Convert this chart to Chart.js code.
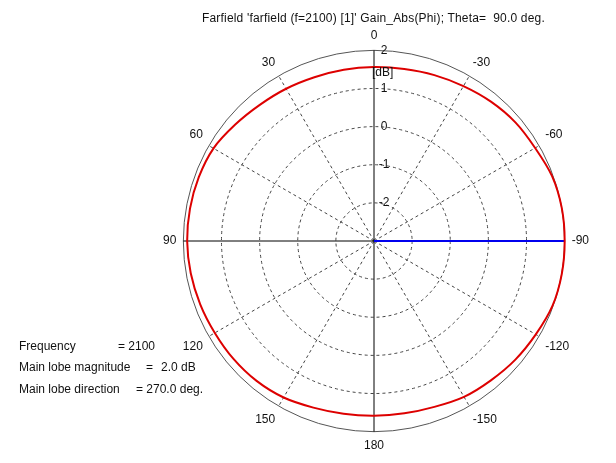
<!DOCTYPE html>
<html>
<head>
<meta charset="utf-8">
<script src="https://cdn.jsdelivr.net/npm/chart.js@4.4.1/dist/chart.umd.min.js"></script>
<style>
    body { margin: 0; background: #fff; }
    #wrap { position: relative; width: 616px; height: 463px; font-family: 'Liberation Sans', Arial, sans-serif; font-size: 12px; color: #111; }
    #wrap canvas { position: absolute; left: 0; top: 0; }
    .txt { position: absolute; white-space: pre; line-height: 14px; }
</style>
</head>
<body>
<div id="wrap">
    <canvas id="farfieldChart" width="616" height="463"></canvas>
    <div class="txt" style="left:202px; top:11px; letter-spacing:0.18px;">Farfield 'farfield (f=2100) [1]' Gain_Abs(Phi); Theta=  90.0 deg.</div>
    <div class="txt" style="left:372px; top:65px;">[dB]</div>
    <div class="txt" style="left:19px; top:339px;">Frequency</div>
    <div class="txt" style="left:118px; top:339px;">= 2100</div>
    <div class="txt" style="left:19px; top:360px;">Main lobe magnitude</div>
    <div class="txt" style="left:146px; top:360px;">=</div>
    <div class="txt" style="left:161px; top:360px;">2.0 dB</div>
    <div class="txt" style="left:19px; top:382px;">Main lobe direction</div>
    <div class="txt" style="left:136px; top:382px;">= 270.0 deg.</div>
</div>
<script>
// Phi angles in the order the radar axis walks them (clockwise from the top)
const phiDeg = [0, -10, -20, -30, -40, -50, -60, -70, -80, -90, -100, -110, -120, -130, -140, -150, -160, -170,
    180, 170, 160, 150, 140, 130, 120, 110, 100, 90, 80, 70, 60, 50, 40, 30, 20, 10];

// Gain_Abs in dB
const gainDb = [1.56, 1.58, 1.63, 1.69, 1.77, 1.84, 1.88, 1.97, 2.00, 2.00, 2.00, 1.98, 1.90, 1.84, 1.77, 1.72, 1.63, 1.59,
    1.58, 1.60, 1.65, 1.74, 1.79, 1.81, 1.82, 1.85, 1.88, 1.90, 1.90, 1.89, 1.86, 1.75, 1.66, 1.61, 1.57, 1.56];

// Main lobe marker: centre to 2.0 dB at phi = -90 (270 deg)
const mainLobe = [null, null, null, null, null, null, null, null, -3, 2.0, null, null, null, null, null, null, null, null,
    null, null, null, null, null, null, null, null, null, null, null, null, null, null, null, null, null, null];

const rMin = -3;
const rMax = 2;

const fontFamily = "'Liberation Sans', Arial, sans-serif";

function isMajor(i) {
    return phiDeg[i] % 30 === 0;
}
function isAxis(i) {
    return phiDeg[i] % 90 === 0;
}

const ctx = document.getElementById('farfieldChart');

const farfieldChart = new Chart(ctx, {
    type: 'radar',
    data: {
        labels: phiDeg,
        datasets: [
            {
                label: 'Gain_Abs',
                data: gainDb,
                borderColor: '#dd0000',
                borderWidth: 2,
                backgroundColor: 'transparent',
                fill: false,
                pointRadius: 0,
                tension: 0.3
            },
            {
                label: 'Main lobe',
                data: mainLobe,
                borderColor: '#0000ee',
                borderWidth: 2,
                backgroundColor: 'transparent',
                fill: false,
                pointRadius: 0,
                spanGaps: false,
                tension: 0
            }
        ]
    },
    options: {
        responsive: false,
        animation: false,
        layout: {
            padding: { left: 161, right: 25, top: 26, bottom: 7 }
        },
        plugins: {
            legend: { display: false },
            title: { display: false },
            tooltip: { enabled: false }
        },
        scales: {
            r: {
                min: rMin,
                max: rMax,
                beginAtZero: false,
                ticks: {
                    stepSize: 1,
                    showLabelBackdrop: false,
                    backdropPadding: 0,
                    color: '#111',
                    font: { size: 12, family: fontFamily },
                    callback: function(value) {
                        if (value === rMin) return '';
                        return '      ' + value;
                    }
                },
                grid: {
                    circular: true,
                    color: function(c) {
                        return c.tick && c.tick.value === rMax ? '#555' : '#444';
                    },
                    lineWidth: 1
                },
                border: {
                    dash: function(c) {
                        return c.tick && c.tick.value === rMax ? [] : [3, 3];
                    }
                },
                angleLines: {
                    display: true,
                    color: function(c) {
                        return isAxis(c.index) ? '#000' : '#444';
                    },
                    lineWidth: function(c) {
                        return isMajor(c.index) ? 1 : 0;
                    },
                    borderDash: function(c) {
                        return isAxis(c.index) ? [] : [3, 3];
                    }
                },
                pointLabels: {
                    padding: 1,
                    color: '#111',
                    font: { size: 12, family: fontFamily },
                    callback: function(label, index) {
                        return isMajor(index) ? String(label) : '';
                    }
                }
            }
        }
    }
});
</script>
</body>
</html>
